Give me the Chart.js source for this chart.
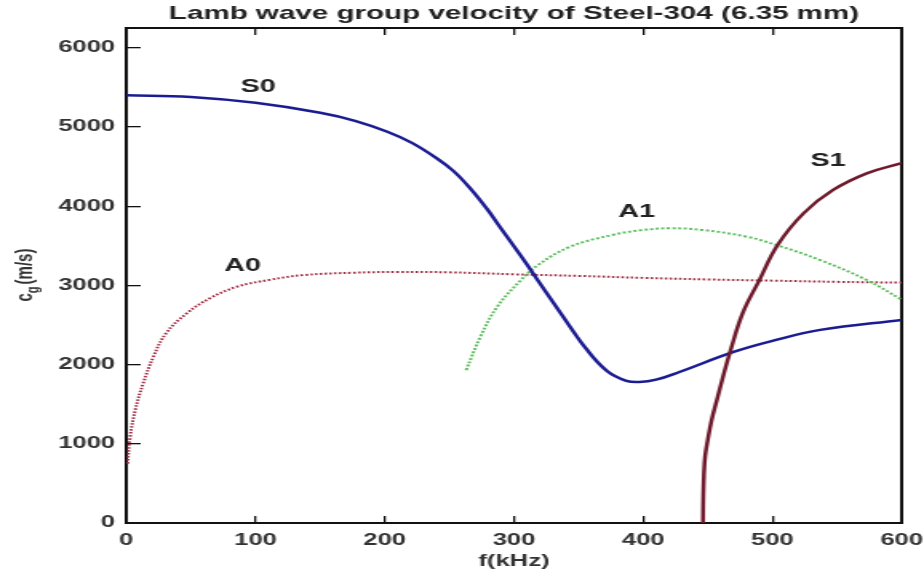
<!DOCTYPE html>
<html>
<head>
<meta charset="utf-8">
<script src="https://cdn.jsdelivr.net/npm/chart.js@4.4.0/dist/chart.umd.min.js"></script>
<style>
  html, body { margin: 0; padding: 0; background: #fff; }
</style>
</head>
<body>
<!-- the reference picture is stretched sideways, so the canvas is drawn narrow and widened by css -->
<canvas id="chart" width="578" height="575" style="display:block;width:924px;height:575px"></canvas>
<script>
// Axis ticks
const freqTicks = [0, 100, 200, 300, 400, 500, 600];
const velTicks = [0, 1000, 2000, 3000, 4000, 5000, 6000];
const velMax = 6250;

// S0 mode (kHz, m/s)
const s0Freq = [0, 50, 100, 150, 177, 202, 221, 240, 253, 266, 279, 289, 305, 314, 336, 356, 372, 387, 397, 410, 428, 470, 500, 537, 600];
const s0Vel = [5400, 5380, 5305, 5180, 5078, 4940, 4800, 4607, 4446, 4229, 3969, 3741, 3382, 3170, 2653, 2198, 1920, 1795, 1780, 1810, 1907, 2160, 2300, 2438, 2564];

// A0 mode
const a0Freq = [1, 3, 7, 13, 21, 31, 47, 65, 86, 111, 137, 176, 210, 250, 300, 350, 400, 450, 500, 550, 600];
const a0Vel = [750, 1090, 1430, 1760, 2100, 2400, 2650, 2840, 2985, 3070, 3130, 3160, 3170, 3165, 3140, 3120, 3095, 3075, 3060, 3045, 3035];

// A1 mode
const a1Freq = [263, 274, 287, 305, 318, 343, 377, 400, 421, 446, 480, 503, 537, 573, 600];
const a1Vel = [1930, 2350, 2730, 3060, 3250, 3485, 3640, 3700, 3721, 3700, 3615, 3510, 3320, 3068, 2820];

// S1 mode
const s1Freq = [446.3, 446.5, 447, 448, 450, 453, 457, 462, 467, 477, 490, 504, 524, 547, 573, 600];
const s1Vel = [0, 300, 600, 850, 1050, 1300, 1550, 1860, 2146, 2650, 3070, 3510, 3910, 4205, 4415, 4545];

// Mode names written on the plot
const modeNames = ['S0', 'A0', 'A1', 'S1'];
const modeNameFreq = [102, 90, 395, 543];
const modeNameVel = [5505, 3245, 3927, 4571];

const fontFamily = '"Liberation Sans", Arial, sans-serif';
Chart.defaults.font.family = fontFamily;

function toPoints(xs, ys) {
    return xs.map((x, i) => ({ x: x, y: ys[i] }));
}

function setTicks(values) {
    return scale => { scale.ticks = values.map(v => ({ value: v })); };
}

// keep the plot box where the picture has it, whatever the label overhang
function fixSize(w, h) {
    return scale => {
        if (w !== null) scale.width = w;
        if (h !== null) scale.height = h;
        scale.paddingLeft = 0;
        scale.paddingRight = 0;
        scale.paddingTop = 0;
        scale.paddingBottom = 0;
    };
}

const axisColor = '#111';
const textColor = '#333';

// Mode names inside the plot
const modeNamePlugin = {
    id: 'modeNames',
    afterDatasetsDraw(chart) {
        const ctx = chart.ctx;
        const xs = chart.scales.x;
        const ys = chart.scales.y;
        ctx.save();
        ctx.font = 'bold 18px ' + fontFamily;
        ctx.fillStyle = '#222';
        ctx.textAlign = 'center';
        ctx.textBaseline = 'middle';
        modeNames.forEach((name, i) => {
            ctx.fillText(name, xs.getPixelForValue(modeNameFreq[i]), ys.getPixelForValue(modeNameVel[i]));
        });
        ctx.restore();
    }
};

// y axis title with the subscript g
const yTitlePlugin = {
    id: 'yTitle',
    afterDraw(chart) {
        const ctx = chart.ctx;
        const area = chart.chartArea;
        ctx.save();
        ctx.translate(20, (area.top + area.bottom) / 2);
        ctx.rotate(-Math.PI / 2);
        ctx.fillStyle = textColor;
        ctx.textBaseline = 'alphabetic';
        ctx.textAlign = 'left';
        let x = -26;
        ctx.font = 'bold 15px ' + fontFamily;
        ctx.fillText('c', x, 0);
        x += ctx.measureText('c').width;
        ctx.font = 'bold 11px ' + fontFamily;
        ctx.fillText('g', x, 4);
        x += ctx.measureText('g').width + 2;
        ctx.font = 'bold 15px ' + fontFamily;
        ctx.fillText('(m/s)', x, 0);
        ctx.restore();
    }
};

const ctx = document.getElementById('chart').getContext('2d');

const lineDefaults = { showLine: true, pointRadius: 0, tension: 0.4 };

new Chart(ctx, {
    type: 'scatter',
    data: {
        datasets: [
            Object.assign({
                label: 'S1',
                data: toPoints(s1Freq, s1Vel),
                borderColor: '#6e1a2c',
                borderWidth: 2.5
            }, lineDefaults),
            Object.assign({
                label: 'S0',
                data: toPoints(s0Freq, s0Vel),
                borderColor: '#1c1c92',
                borderWidth: 2.5
            }, lineDefaults),
            Object.assign({
                label: 'A1',
                data: toPoints(a1Freq, a1Vel),
                borderColor: '#62c062',
                borderWidth: 2,
                borderDash: [2, 1.5]
            }, lineDefaults),
            Object.assign({
                label: 'A0',
                data: toPoints(a0Freq, a0Vel),
                borderColor: '#a02a42',
                borderWidth: 2,
                borderDash: [1.5, 1.5]
            }, lineDefaults)
        ]
    },
    options: {
        responsive: false,
        animation: false,
        layout: { padding: { left: 0, right: 14, top: 0, bottom: 0 } },
        plugins: {
            legend: { display: false },
            tooltip: { enabled: false },
            title: {
                display: true,
                text: 'Lamb wave group velocity of Steel-304 (6.35 mm)',
                fullSize: false,
                color: '#222',
                font: { size: 18.5, weight: 'bold' },
                padding: { top: 2.9, bottom: 2.9 }
            }
        },
        scales: {
            x: {
                type: 'linear',
                position: 'bottom',
                min: freqTicks[0],
                max: freqTicks[freqTicks.length - 1],
                afterBuildTicks: setTicks(freqTicks),
                ticks: { padding: 15, color: textColor, maxRotation: 0, font: { size: 16, weight: 'bold' }, callback: v => String(v) },
                grid: { drawOnChartArea: false, tickLength: -7, color: axisColor, lineWidth: 1.3 },
                border: { color: axisColor, width: 2 },
                title: {
                    display: true,
                    text: 'f(kHz)',
                    color: textColor,
                    font: { size: 16, weight: 'bold' },
                    padding: { top: 0, bottom: 4 }
                },
                afterFit: fixSize(null, 52)
            },
            xTop: {
                type: 'linear',
                position: 'top',
                min: freqTicks[0],
                max: freqTicks[freqTicks.length - 1],
                afterBuildTicks: setTicks(freqTicks),
                ticks: { display: false },
                grid: { drawOnChartArea: false, tickLength: -7, color: axisColor, lineWidth: 1.3 },
                border: { color: axisColor, width: 2 },
                afterFit: fixSize(null, 0)
            },
            y: {
                type: 'linear',
                position: 'left',
                min: velTicks[0],
                max: velMax,
                afterBuildTicks: setTicks(velTicks),
                ticks: { padding: 16, color: textColor, font: { size: 16, weight: 'bold' }, callback: v => String(v) },
                grid: { drawOnChartArea: false, tickLength: -9, color: axisColor, lineWidth: 1.3 },
                border: { color: axisColor, width: 2 },
                afterFit: fixSize(79, null)
            },
            yRight: {
                type: 'linear',
                position: 'right',
                ticks: { display: false },
                grid: { display: false },
                border: { color: axisColor, width: 2 },
                afterFit: fixSize(0, null)
            }
        }
    },
    plugins: [modeNamePlugin, yTitlePlugin]
});
</script>
</body>
</html>
